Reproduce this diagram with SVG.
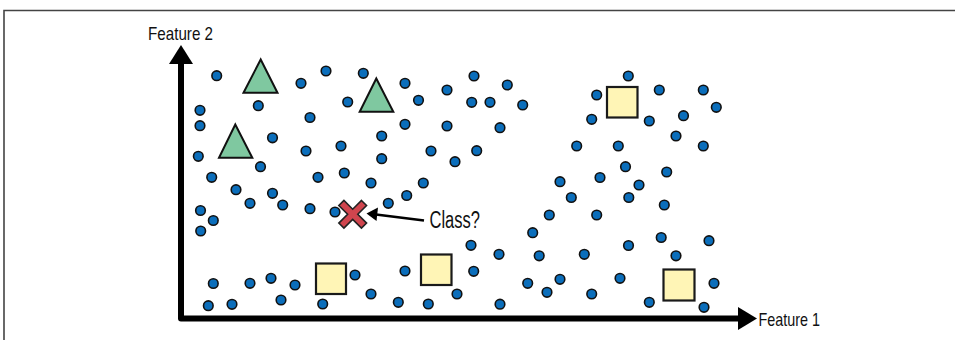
<svg xmlns="http://www.w3.org/2000/svg" width="955" height="340" viewBox="0 0 955 340">
<style>
.d{fill:#0b6ebb;stroke:#111;stroke-width:1.6}
.t{fill:#7fc8a0;stroke:#111;stroke-width:2;stroke-linejoin:miter}
.s{fill:#fff5b6;stroke:#1a1a1a;stroke-width:2.2}
.lbl{font-family:"Liberation Sans","DejaVu Sans",sans-serif;fill:#111}
.axis{fill:none;stroke:#000;stroke-width:6;stroke-linejoin:round}
</style>
<rect width="955" height="340" fill="#fff"/>
<path d="M4,340 V10.5 H955" fill="none" stroke="#444" stroke-width="1.6"/>
<g id="connectors">
<path class="axis" d="M181,62 V318.5 H740"/>
<polygon points="181,45 169,64 193,64" fill="#000"/>
<polygon points="757,318.5 738,307 738,330" fill="#000"/>
<line x1="424" y1="220.5" x2="376" y2="214.5" stroke="#000" stroke-width="2.6"/>
<polygon points="366.5,213.5 378,207.5 376.5,221" fill="#000"/>
</g>
<g id="dots">
<circle class="d" cx="216.7" cy="75.7" r="4.8"/>
<circle class="d" cx="258.3" cy="105.7" r="4.8"/>
<circle class="d" cx="301" cy="83.3" r="4.8"/>
<circle class="d" cx="326" cy="71" r="4.8"/>
<circle class="d" cx="363.3" cy="73.3" r="4.8"/>
<circle class="d" cx="405" cy="83.3" r="4.8"/>
<circle class="d" cx="418.5" cy="100.3" r="4.8"/>
<circle class="d" cx="347.7" cy="102" r="4.8"/>
<circle class="d" cx="310" cy="117.5" r="4.8"/>
<circle class="d" cx="200" cy="110.3" r="4.8"/>
<circle class="d" cx="200" cy="125.7" r="4.8"/>
<circle class="d" cx="272.5" cy="137.8" r="4.8"/>
<circle class="d" cx="405" cy="124.3" r="4.8"/>
<circle class="d" cx="381.7" cy="136" r="4.8"/>
<circle class="d" cx="341" cy="146" r="4.8"/>
<circle class="d" cx="306" cy="151" r="4.8"/>
<circle class="d" cx="198.3" cy="156.3" r="4.8"/>
<circle class="d" cx="260.5" cy="166.7" r="4.8"/>
<circle class="d" cx="381.7" cy="158.7" r="4.8"/>
<circle class="d" cx="211.7" cy="177.3" r="4.8"/>
<circle class="d" cx="318" cy="177.3" r="4.8"/>
<circle class="d" cx="344.3" cy="173" r="4.8"/>
<circle class="d" cx="474" cy="76" r="4.8"/>
<circle class="d" cx="507.3" cy="85" r="4.8"/>
<circle class="d" cx="447" cy="90" r="4.8"/>
<circle class="d" cx="471.7" cy="102.3" r="4.8"/>
<circle class="d" cx="490" cy="102.3" r="4.8"/>
<circle class="d" cx="522.7" cy="105" r="4.8"/>
<circle class="d" cx="447" cy="126" r="4.8"/>
<circle class="d" cx="500" cy="127.7" r="4.8"/>
<circle class="d" cx="431" cy="151" r="4.8"/>
<circle class="d" cx="476.7" cy="150.7" r="4.8"/>
<circle class="d" cx="455" cy="161.7" r="4.8"/>
<circle class="d" cx="628.3" cy="76" r="4.8"/>
<circle class="d" cx="596.7" cy="95" r="4.8"/>
<circle class="d" cx="659.3" cy="90" r="4.8"/>
<circle class="d" cx="703.3" cy="90" r="4.8"/>
<circle class="d" cx="716.3" cy="107.3" r="4.8"/>
<circle class="d" cx="591.7" cy="119.3" r="4.8"/>
<circle class="d" cx="649.3" cy="121" r="4.8"/>
<circle class="d" cx="683.5" cy="115.7" r="4.8"/>
<circle class="d" cx="676" cy="136" r="4.8"/>
<circle class="d" cx="576.7" cy="146" r="4.8"/>
<circle class="d" cx="618.3" cy="146" r="4.8"/>
<circle class="d" cx="703.3" cy="146" r="4.8"/>
<circle class="d" cx="625.5" cy="166.7" r="4.8"/>
<circle class="d" cx="666.7" cy="172" r="4.8"/>
<circle class="d" cx="560" cy="181.7" r="4.8"/>
<circle class="d" cx="600" cy="177.5" r="4.8"/>
<circle class="d" cx="639" cy="185" r="4.8"/>
<circle class="d" cx="571.3" cy="197.5" r="4.8"/>
<circle class="d" cx="628.8" cy="197.5" r="4.8"/>
<circle class="d" cx="664.3" cy="205" r="4.8"/>
<circle class="d" cx="549.3" cy="215" r="4.8"/>
<circle class="d" cx="596.7" cy="215" r="4.8"/>
<circle class="d" cx="532.7" cy="232.7" r="4.8"/>
<circle class="d" cx="661.2" cy="237.5" r="4.8"/>
<circle class="d" cx="709" cy="240.7" r="4.8"/>
<circle class="d" cx="628.5" cy="245.5" r="4.8"/>
<circle class="d" cx="539.2" cy="255.8" r="4.8"/>
<circle class="d" cx="584.3" cy="254.3" r="4.8"/>
<circle class="d" cx="676" cy="255.8" r="4.8"/>
<circle class="d" cx="371" cy="183" r="4.8"/>
<circle class="d" cx="423.3" cy="183" r="4.8"/>
<circle class="d" cx="236" cy="189.7" r="4.8"/>
<circle class="d" cx="272.5" cy="193.3" r="4.8"/>
<circle class="d" cx="406.7" cy="195.5" r="4.8"/>
<circle class="d" cx="250" cy="203.3" r="4.8"/>
<circle class="d" cx="282.7" cy="205" r="4.8"/>
<circle class="d" cx="310" cy="208.7" r="4.8"/>
<circle class="d" cx="335" cy="212" r="4.8"/>
<circle class="d" cx="388.3" cy="203.3" r="4.8"/>
<circle class="d" cx="200.5" cy="210.5" r="4.8"/>
<circle class="d" cx="213.3" cy="220.5" r="4.8"/>
<circle class="d" cx="200.7" cy="231" r="4.8"/>
<circle class="d" cx="471" cy="245.3" r="4.8"/>
<circle class="d" cx="499" cy="254.3" r="4.8"/>
<circle class="d" cx="213.3" cy="283.5" r="4.8"/>
<circle class="d" cx="250" cy="283.3" r="4.8"/>
<circle class="d" cx="271" cy="278.3" r="4.8"/>
<circle class="d" cx="295" cy="285" r="4.8"/>
<circle class="d" cx="355" cy="275" r="4.8"/>
<circle class="d" cx="405" cy="271" r="4.8"/>
<circle class="d" cx="473.7" cy="271.3" r="4.8"/>
<circle class="d" cx="208.3" cy="305.7" r="4.8"/>
<circle class="d" cx="232" cy="304.3" r="4.8"/>
<circle class="d" cx="281" cy="300" r="4.8"/>
<circle class="d" cx="322.7" cy="304" r="4.8"/>
<circle class="d" cx="371" cy="294" r="4.8"/>
<circle class="d" cx="398.3" cy="302.3" r="4.8"/>
<circle class="d" cx="428.3" cy="304" r="4.8"/>
<circle class="d" cx="457" cy="294" r="4.8"/>
<circle class="d" cx="527.7" cy="283.3" r="4.8"/>
<circle class="d" cx="560" cy="279.3" r="4.8"/>
<circle class="d" cx="547" cy="292.3" r="4.8"/>
<circle class="d" cx="620" cy="278.3" r="4.8"/>
<circle class="d" cx="591.7" cy="294" r="4.8"/>
<circle class="d" cx="500" cy="304.2" r="4.8"/>
<circle class="d" cx="649.3" cy="302.3" r="4.8"/>
<circle class="d" cx="714" cy="283.3" r="4.8"/>
<circle class="d" cx="704" cy="307.3" r="4.8"/>
</g>
<g id="triangle-1"><polygon class="t" points="260.7,59.5 243.5,92.7 277.5,92.7"/></g>
<g id="triangle-2"><polygon class="t" points="376.3,78.5 359.7,111.7 393.3,111.7"/></g>
<g id="triangle-3"><polygon class="t" points="235.3,124.5 219,157.7 252.3,157.7"/></g>
<g id="square-1"><rect class="s" x="607" y="87" width="30.5" height="30.5"/></g>
<g id="square-2"><rect class="s" x="316" y="263.5" width="30" height="30.5"/></g>
<g id="square-3"><rect class="s" x="421" y="254.5" width="30.5" height="30.5"/></g>
<g id="square-4"><rect class="s" x="663.5" y="269.5" width="31" height="31"/></g>
<g id="query">
<polygon transform="translate(352.7,214.3) rotate(45)" points="-3.6,-16 3.6,-16 3.6,-3.6 16,-3.6 16,3.6 3.6,3.6 3.6,16 -3.6,16 -3.6,3.6 -16,3.6 -16,-3.6 -3.6,-3.6" fill="#d0454e" stroke="#222" stroke-width="1.6" stroke-linejoin="miter"/>
</g>
<g id="labels">
<text class="lbl" x="148" y="40" font-size="19" textLength="65" lengthAdjust="spacingAndGlyphs">Feature 2</text>
<text class="lbl" x="758.5" y="325.5" font-size="19" textLength="61.5" lengthAdjust="spacingAndGlyphs">Feature 1</text>
<text class="lbl" x="429.5" y="227.5" font-size="23.5" textLength="50.5" lengthAdjust="spacingAndGlyphs">Class?</text>
</g>
</svg>
